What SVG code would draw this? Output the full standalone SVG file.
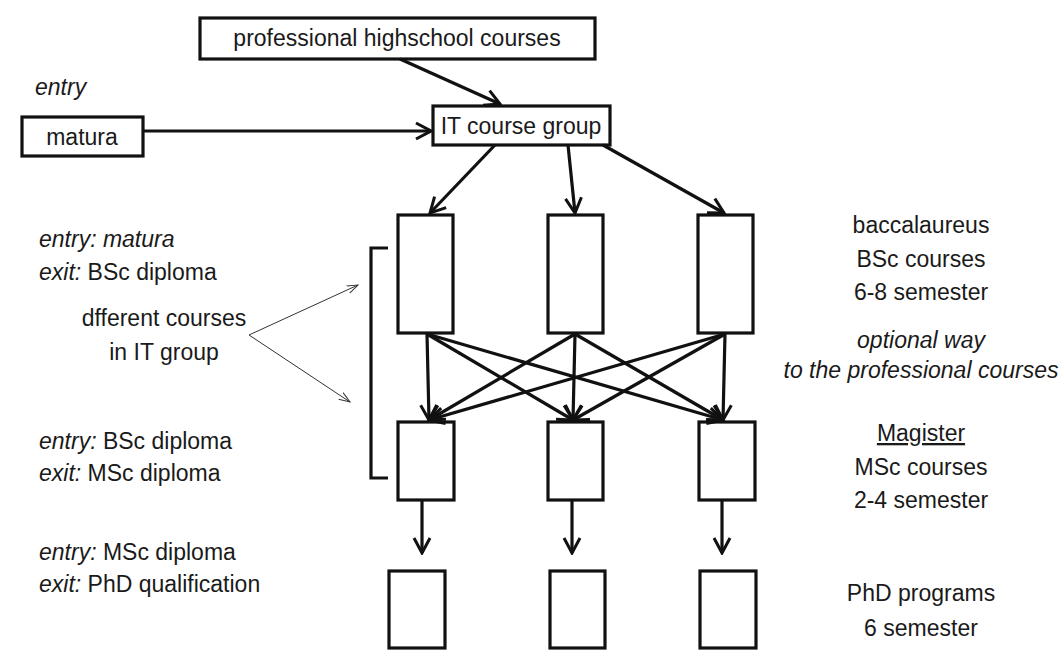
<svg xmlns="http://www.w3.org/2000/svg" width="1063" height="651" viewBox="0 0 1063 651">
  <defs>
    <style>
      .box { fill: #fff; stroke: #111; stroke-width: 3.2; }
      .lbl { font-family: "Liberation Sans", Arial, sans-serif; font-size: 23px; fill: #1a1a1a; }
      .mid { text-anchor: middle; }
      .it { font-style: italic; }
      .edge { stroke: #111; stroke-width: 3.2; fill: none; }
      .thin { stroke: #333; stroke-width: 1; fill: none; }
    </style>
    <!-- open chevron head used by all heavy connectors -->
    <marker id="head" viewBox="0 0 20 20" refX="18" refY="10" markerWidth="20" markerHeight="20" markerUnits="userSpaceOnUse" orient="auto">
      <path d="M3,2 L18,10 L3,18" fill="none" stroke="#111" stroke-width="3"/>
    </marker>
    <marker id="thinhead" viewBox="0 0 12 10" refX="11" refY="5" markerWidth="12" markerHeight="10" markerUnits="userSpaceOnUse" orient="auto">
      <path d="M0,1 L11,5 L0,9" fill="none" stroke="#333" stroke-width="1"/>
    </marker>
  </defs>

  <rect width="1063" height="651" fill="#fff"/>

  <!-- entry nodes -->
  <g id="node-highschool">
    <rect class="box" x="200" y="18" width="395" height="41"/>
    <text class="lbl mid" x="397" y="46">professional highschool courses</text>
  </g>
  <g id="node-matura">
    <rect class="box" x="22" y="117" width="121" height="39"/>
    <text class="lbl mid" x="82" y="145">matura</text>
  </g>
  <g id="node-itgroup">
    <rect class="box" x="433" y="106" width="177" height="39"/>
    <text class="lbl mid" x="521" y="134">IT course group</text>
  </g>

  <!-- BSc courses -->
  <g id="node-bsc-1"><rect class="box" x="398" y="215" width="55" height="118"/></g>
  <g id="node-bsc-2"><rect class="box" x="548" y="215" width="55" height="118"/></g>
  <g id="node-bsc-3"><rect class="box" x="698" y="215" width="55" height="118"/></g>

  <!-- MSc courses -->
  <g id="node-msc-1"><rect class="box" x="398" y="422" width="56" height="78"/></g>
  <g id="node-msc-2"><rect class="box" x="548" y="422" width="55" height="78"/></g>
  <g id="node-msc-3"><rect class="box" x="699" y="422" width="56" height="78"/></g>

  <!-- PhD programs -->
  <g id="node-phd-1"><rect class="box" x="389" y="571" width="56" height="77"/></g>
  <g id="node-phd-2"><rect class="box" x="550" y="571" width="55" height="77"/></g>
  <g id="node-phd-3"><rect class="box" x="700" y="571" width="56" height="77"/></g>

  <g id="connectors">
    <line class="edge" x1="400" y1="59" x2="500" y2="104" marker-end="url(#head)"/>
    <line class="edge" x1="143" y1="131" x2="431" y2="131" marker-end="url(#head)"/>
    <line class="edge" x1="495" y1="145" x2="430" y2="213" marker-end="url(#head)"/>
    <line class="edge" x1="568" y1="145" x2="575" y2="213" marker-end="url(#head)"/>
    <line class="edge" x1="603" y1="145" x2="724" y2="213" marker-end="url(#head)"/>

    <!-- BSc to MSc, every course to every course -->
    <line class="edge" x1="427" y1="334" x2="429" y2="420" marker-end="url(#head)"/>
    <line class="edge" x1="427" y1="334" x2="573" y2="420" marker-end="url(#head)"/>
    <line class="edge" x1="427" y1="334" x2="723" y2="420" marker-end="url(#head)"/>
    <line class="edge" x1="575" y1="334" x2="429" y2="420" marker-end="url(#head)"/>
    <line class="edge" x1="575" y1="334" x2="573" y2="420" marker-end="url(#head)"/>
    <line class="edge" x1="575" y1="334" x2="723" y2="420" marker-end="url(#head)"/>
    <line class="edge" x1="725" y1="334" x2="429" y2="420" marker-end="url(#head)"/>
    <line class="edge" x1="725" y1="334" x2="573" y2="420" marker-end="url(#head)"/>
    <line class="edge" x1="725" y1="334" x2="723" y2="420" marker-end="url(#head)"/>

    <!-- MSc to PhD -->
    <line class="edge" x1="422" y1="501" x2="422" y2="553" marker-end="url(#head)"/>
    <line class="edge" x1="572" y1="501" x2="572" y2="553" marker-end="url(#head)"/>
    <line class="edge" x1="722" y1="501" x2="722" y2="553" marker-end="url(#head)"/>

    <!-- bracket and pointers -->
    <path class="edge" d="M388,248 H371 V478 H388"/>
    <line class="thin" x1="249" y1="335" x2="358" y2="285" marker-end="url(#thinhead)"/>
    <line class="thin" x1="249" y1="335" x2="350" y2="402" marker-end="url(#thinhead)"/>
  </g>

  <!-- left annotations -->
  <g id="labels-left">
    <text class="lbl it" x="35" y="95">entry</text>
    <text class="lbl it" x="39" y="247">entry: matura</text>
    <text class="lbl" x="39" y="280"><tspan class="it">exit:</tspan> BSc diploma</text>
    <text class="lbl mid" x="164" y="326">dfferent courses</text>
    <text class="lbl mid" x="164" y="360">in IT group</text>
    <text class="lbl" x="39" y="449"><tspan class="it">entry:</tspan> BSc diploma</text>
    <text class="lbl" x="39" y="481"><tspan class="it">exit:</tspan> MSc diploma</text>
    <text class="lbl" x="39" y="560"><tspan class="it">entry:</tspan> MSc diploma</text>
    <text class="lbl" x="39" y="592"><tspan class="it">exit:</tspan> PhD qualification</text>
  </g>

  <!-- right annotations -->
  <g id="labels-right">
    <text class="lbl mid" x="921" y="233">baccalaureus</text>
    <text class="lbl mid" x="921" y="267">BSc courses</text>
    <text class="lbl mid" x="921" y="300">6-8 semester</text>
    <text class="lbl mid it" x="921" y="348">optional way</text>
    <text class="lbl mid it" x="921" y="378">to the professional courses</text>
    <text class="lbl mid" x="921" y="441" text-decoration="underline">Magister</text>
    <text class="lbl mid" x="921" y="475">MSc courses</text>
    <text class="lbl mid" x="921" y="508">2-4 semester</text>
    <text class="lbl mid" x="921" y="601">PhD programs</text>
    <text class="lbl mid" x="921" y="636">6 semester</text>
  </g>
</svg>
